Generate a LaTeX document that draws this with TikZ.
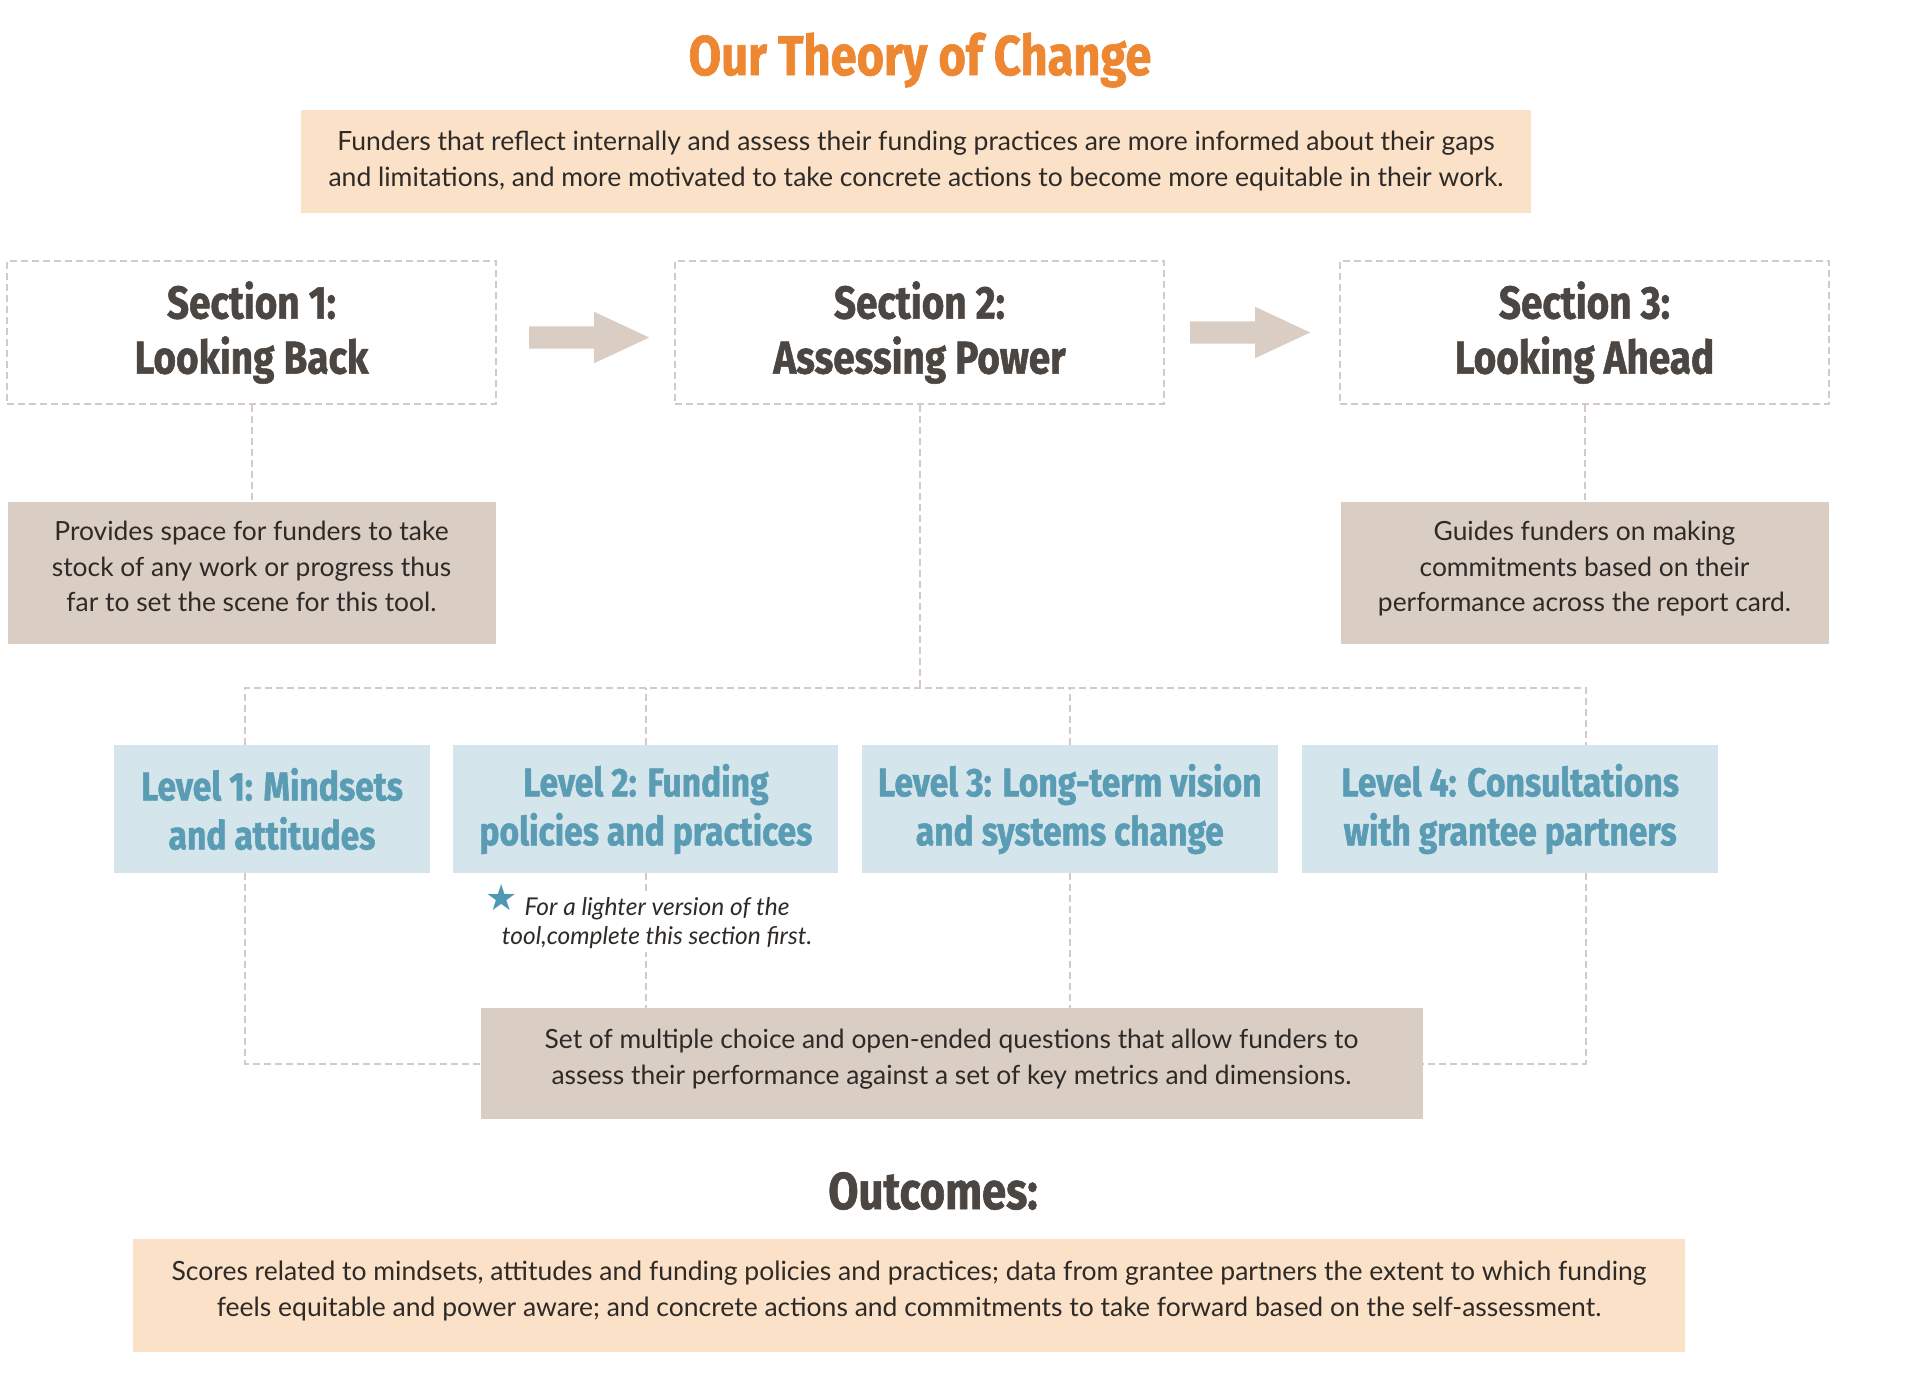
\documentclass[tikz,border=0pt]{standalone}
\usepackage{fontspec}
\setmainfont{Lato}
\newfontfamily\headfont[FakeStretch=0.84,FakeBold=1.2]{Fira Sans}
\newfontfamily\symfont{DejaVu Sans}
\usetikzlibrary{positioning,shapes.arrows}
\definecolor{titleorange}{HTML}{EE8731}
\definecolor{peach}{HTML}{FAE1C7}
\definecolor{taupe}{HTML}{D9CDC4}
\definecolor{paleblue}{HTML}{D4E6EC}
\definecolor{levelblue}{HTML}{5A9CB3}
\definecolor{stargblue}{HTML}{4E98B3}
\definecolor{darkgrey}{HTML}{4B4641}
\definecolor{dashgrey}{HTML}{D6CBC4}
\definecolor{bodytext}{HTML}{2E2A27}
\tikzset{
    secbox/.style={draw=dashgrey, line width=2pt, dash pattern=on 7pt off 4pt, minimum width=489pt, minimum height=143pt, inner sep=0pt, align=center, text=darkgrey, font=\headfont\bfseries\fontsize{46}{55}\selectfont},
    descbox/.style={fill=taupe, minimum width=488pt, minimum height=142pt, inner sep=0pt, align=center, text=bodytext, font=\fontsize{26.4}{35.5}\selectfont, execute at end node={\rule[-13pt]{0pt}{13pt}}},
    levelbox/.style={fill=paleblue, minimum height=128pt, inner sep=0pt, align=center, text=levelblue, font=\headfont\bfseries\fontsize{40}{49}\selectfont},
    peachbox/.style={fill=peach, inner sep=0pt, align=center, text=bodytext, font=\fontsize{26.5}{36}\selectfont},
    bigarrow/.style={single arrow, fill=taupe, minimum height=120pt, text height=11pt, text depth=11pt, single arrow head extend=14.5pt, single arrow tip angle=50, inner sep=0pt},
    link/.style={draw=dashgrey, line width=2pt, dash pattern=on 7pt off 4pt}
}
\begin{document}
\begin{tikzpicture}[x=1pt, y=-1pt]
                \useasboundingbox (0,0) rectangle (1920,1400);
                \node[text=titleorange, font=\headfont\bfseries\fontsize{56}{56}\selectfont] (title) at (920,60) {Our Theory of Change};
                \node[peachbox, minimum width=1230pt, minimum height=103pt] (premise) at (916,161.5) {Funders that reflect internally and assess their funding practices are more informed about their gaps\\and limitations, and more motivated to take concrete actions to become more equitable in their work.};

                \node[secbox] (sec1) at (251.5,332.5) {Section 1:\\Looking Back};
                \node[secbox, right=177pt of sec1] (sec2) {Section 2:\\Assessing Power};
                \node[secbox, right=174pt of sec2] (sec3) {Section 3:\\Looking Ahead};
                \node[bigarrow, right=32pt of sec1, yshift=-5pt] (arrow1) {};
                \node[bigarrow, right=25pt of sec2] (arrow2) {};

                \node[descbox, below=97pt of sec1] (desc1) {Provides space for funders to take\\stock of any work or progress thus\\far to set the scene for this tool.};
                \node[descbox, below=97pt of sec3] (desc3) {Guides funders on making\\commitments based on their\\performance across the report card.};

                \node[levelbox, minimum width=316pt] (lvl1) at (272,809) {Level 1: Mindsets\\and attitudes};
                \node[levelbox, minimum width=385pt, right=23pt of lvl1] (lvl2) {Level 2: Funding\\policies and practices};
                \node[levelbox, minimum width=416pt, right=23pt of lvl2] (lvl3) {Level 3: Long-term vision\\and systems change};
                \node[levelbox, minimum width=416pt, right=24pt of lvl3] (lvl4) {Level 4: Consultations\\with grantee partners};

                \node[descbox, minimum width=942pt, minimum height=111pt] (questions) at (951.5,1063.5) {Set of multiple choice and open-ended questions that allow funders to\\assess their performance against a set of key metrics and dimensions.};

                \coordinate (hubL) at (245,688);
                \coordinate (hubR) at (1586,688);

                \draw[link] (sec1.south) -- (desc1.north);
                \draw[link] (sec3.south) -- (desc3.north);
                \draw[link] (sec2.south) -- (sec2.south |- hubL);
                \draw[link] (hubL |- lvl1.north) -- (hubL) -- (hubR) -- (hubR |- lvl4.north);
                \draw[link] (lvl2.north) -- (lvl2.north |- hubL);
                \draw[link] (lvl3.north) -- (lvl3.north |- hubL);
                \draw[link] (hubL |- lvl1.south) -- (hubL |- questions.west) -- (questions.west);
                \draw[link] (hubR |- lvl4.south) -- (hubR |- questions.east) -- (questions.east);
                \draw[link] (lvl2.south) -- (lvl2.south |- questions.north);
                \draw[link] (lvl3.south) -- (lvl3.south |- questions.north);

                \node[fill=white, inner sep=3pt, align=center, text=bodytext, font=\itshape\fontsize{24.5}{29}\selectfont] (note) at (657,923) {For a lighter version of the\\tool,complete this section first.};
                \node[text=stargblue, inner sep=0pt, font=\symfont\fontsize{36}{36}\selectfont] (star) at (502,898) {★};

                \node[text=darkgrey, font=\headfont\bfseries\fontsize{52}{52}\selectfont] (outcomes) at (933,1191) {Outcomes:};
                \node[peachbox, minimum width=1552pt, minimum height=113pt, execute at end node={\rule[-13pt]{0pt}{13pt}}] (results) at (909,1295.5) {Scores related to mindsets, attitudes and funding policies and practices; data from grantee partners the extent to which funding\\feels equitable and power aware; and concrete actions and commitments to take forward based on the self-assessment.};
            \end{tikzpicture}
\end{document}
